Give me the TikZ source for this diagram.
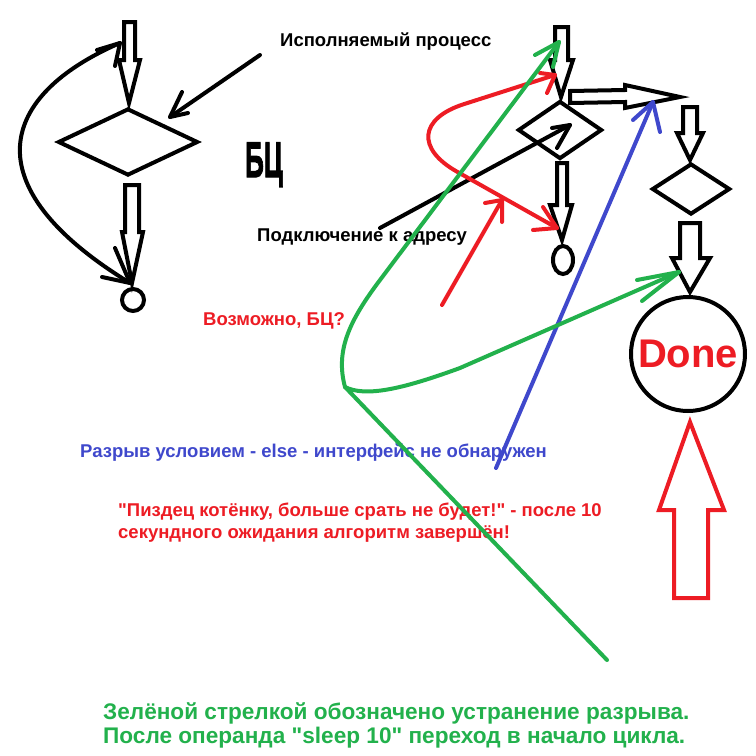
\documentclass[tikz,border=0pt]{standalone}
\usepackage{fontspec}
\setmainfont{Liberation Sans}[Ligatures=TeXOff]
\newfontfamily\bcfont{Liberation Sans Bold}[FakeBold=2.5]
\usetikzlibrary{shapes.geometric}
\definecolor{pred}{RGB}{237,28,36}
\definecolor{pgreen}{RGB}{34,177,76}
\definecolor{pblue}{RGB}{63,72,204}
\tikzset{
  blk/.style={draw=black, line width=4pt, line join=miter},
  shp/.style={draw=black, line width=4pt, inner sep=0pt},
  con/.style={line width=4pt, line cap=round, line join=round},
  txt/.style={inner sep=0pt, anchor=base west},
  fA/.style={font=\bfseries\fontsize{18.5}{21}\selectfont},
  fB/.style={font=\bfseries\fontsize{18.5}{21}\selectfont},
  fC/.style={font=\bfseries\fontsize{22.6}{24}\selectfont}
}
\begin{document}
\begin{tikzpicture}[x=1pt,y=-1pt]
\useasboundingbox (0,0) rectangle (756,756);
\fill[white] (0,0) rectangle (756,756);

% texts
\node[txt, fA] (t1) at (280,46) {Исполняемый процесс};
\node[txt, fA] (t2) at (257,241) {Подключение к адресу};
\node[txt, fA, text=pred] (t3) at (203,325) {Возможно, БЦ?};
\node[txt, fA, text=pblue] (t4) at (80,457) {Разрыв условием - else - интерфейс не обнаружен};
\node[txt, fB, text=pred] (t5) at (118,516) {"Пиздец котёнку, больше срать не будет!" - после 10};
\node[txt, fB, text=pred] (t6) at (118,538) {секундного ожидания алгоритм завершён!};
\node[txt, fC, text=pgreen] (t7) at (103,719) {Зелёной стрелкой обозначено устранение разрыва.};
\node[txt, fC, text=pgreen] (t8) at (103,743) {После операнда "sleep 10" переход в начало цикла.};
\node[inner sep=0pt, anchor=base, font=\bcfont\fontsize{50}{50}\selectfont] (bc) at (264,177) {\scalebox{0.52}[1]{БЦ}};

% left diagram
\draw[blk] (124,22) -- (135,22) -- (135,60) -- (140,60) -- (129,103) -- (119,60) -- (124,60) -- cycle;
\node[shp, diamond, minimum width=140pt, minimum height=67pt] (d1) at (128,142) {};
\draw[blk] (125,185) -- (139,185) -- (139,232) -- (143,232) -- (132,283) -- (122,232) -- (125,232) -- cycle;
\node[shp, circle, minimum size=22pt] (c1) at (133,300) {};

% right diagram
\draw[blk] (555,27) -- (568,27) -- (568,60) -- (573,60) -- (561,97) -- (550,60) -- (555,60) -- cycle;
\node[shp, diamond, minimum width=84pt, minimum height=58pt] (d2) at (560,130) {};
\draw[blk] (570,91) -- (625,90) -- (625,85) -- (680,97) -- (625,108) -- (625,102) -- (570,103) -- cycle;
\draw[blk] (557,163) -- (567,163) -- (567,205) -- (572,205) -- (562,240) -- (550,205) -- (557,205) -- cycle;
\node[shp, ellipse, minimum width=20pt, minimum height=28pt] (e1) at (563,260) {};
\draw[blk] (683,107) -- (697,107) -- (697,133) -- (703,133) -- (690,160) -- (677,133) -- (683,133) -- cycle;
\node[shp, diamond, minimum width=78pt, minimum height=51pt] (d3) at (691,189) {};
\draw[blk] (680,223) -- (700,223) -- (700,258) -- (710,258) -- (690,292) -- (672,258) -- (680,258) -- cycle;
\node[shp, circle, minimum size=114pt, text=pred, font=\bfseries\fontsize{40}{40}\selectfont] (done) at (688,354) {Done};
\draw[blk, draw=pred] (690,422) -- (724,510) -- (708,510) -- (708,598) -- (674,598) -- (674,510) -- (659,510) -- cycle;

% left curved double arrow
\coordinate (la) at (120,43);
\coordinate (lb) at (130,283);
\draw[con] (la) .. controls (0,95) and (-30,185) .. (lb);
\draw[con] ([shift={(-23,7)}]la) -- (la) -- ([shift={(-5,23)}]la);
\draw[con] ([shift={(-15,-35)}]lb) -- (lb) -- ([shift={(-28,-6)}]lb);

% black pointer from title
\coordinate (pA) at (260,55);
\coordinate (pB) at (170,117);
\draw[con] (pA) -- (pB);
\draw[con] ([shift={(12,-25)}]pB) -- (pB) -- ([shift={(18,-4)}]pB);

% black line into diamond d2
\coordinate (qA) at (380,228);
\coordinate (qB) at (570,125);
\draw[con] (qA) -- (qB);
\draw[con] ([shift={(-18,3)}]qB) -- (qB) -- ([shift={(-13,23)}]qB);

% red curve
\coordinate (rA) at (555,75);
\coordinate (rB) at (557,228);
\draw[con, pred, rounded corners=85pt] (rA) -- (383,130) -- (rB);
\draw[con, pred] ([shift={(-15,-2)}]rA) -- (rA) -- ([shift={(-8,18)}]rA);
\draw[con, pred] ([shift={(-24,2)}]rB) -- (rB) -- ([shift={(-14,-21)}]rB);

% red straight arrow
\coordinate (sA) at (442,305);
\coordinate (sB) at (502,200);
\draw[con, pred] (sA) -- (sB);
\draw[con, pred] ([shift={(-17,3)}]sB) -- (sB) -- ([shift={(0,22)}]sB);

% blue arrow
\coordinate (bA) at (496,468);
\coordinate (bB) at (653,102);
\draw[con, pblue] (bA) -- (bB);
\draw[con, pblue] ([shift={(-20,18)}]bB) -- (bB) -- ([shift={(7,30)}]bB);

% green arrows
\coordinate (gV) at (345,387);
\coordinate (gE) at (607,660);
\coordinate (gT) at (559,42);
\coordinate (gR) at (679,272);
\draw[con, pgreen] (gE) -- (gV);
\draw[con, pgreen] (gV) .. controls (335,350) and (350,320) .. (380,280) -- (gT);
\draw[con, pgreen] (gV) .. controls (365,397) and (400,390) .. (460,368) -- (gR);
\draw[con, pgreen] ([shift={(-24,13)}]gT) -- (gT) -- ([shift={(-6,25)}]gT);
\draw[con, pgreen] ([shift={(-42,8)}]gR) -- (gR) -- ([shift={(-37,29)}]gR);
\end{tikzpicture}
\end{document}
